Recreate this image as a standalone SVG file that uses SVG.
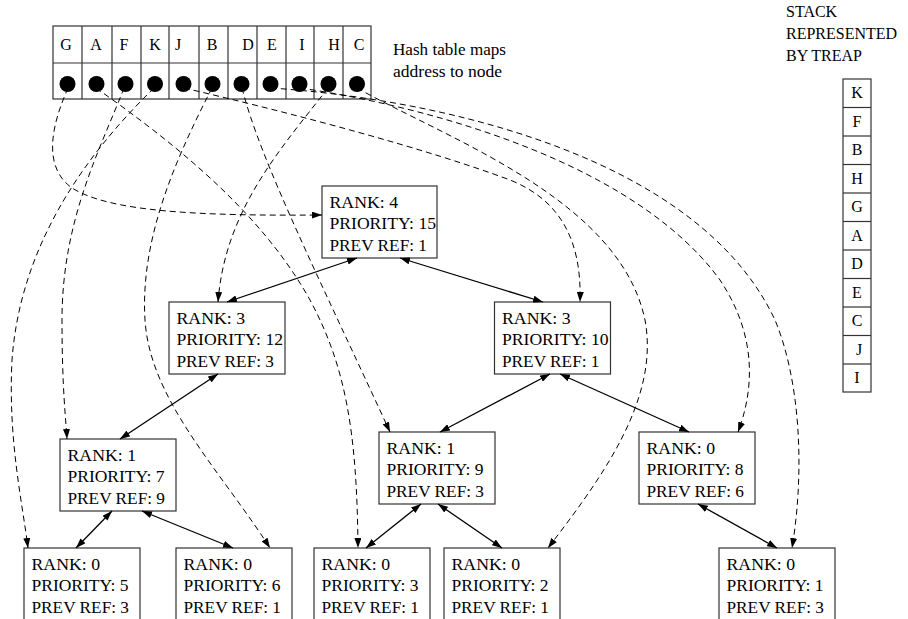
<svg xmlns="http://www.w3.org/2000/svg" width="908" height="619" viewBox="0 0 908 619">
  <style>
    text { font-family: "Liberation Serif", "Times New Roman", serif; font-size: 16px; fill: #000; }
    .box { fill: #fff; stroke: #333; stroke-width: 1.2; }
    .cell { fill: none; stroke: #333; stroke-width: 1.2; }
    .mid { text-anchor: middle; }
    .edge { fill: none; stroke: #000; stroke-width: 1.3; marker-start: url(#ah); marker-end: url(#ah); }
    .ref { fill: none; stroke: #000; stroke-width: 1; stroke-dasharray: 6 4; marker-end: url(#ahd); }
  </style>
  <defs>
    <marker id="ah" viewBox="0 0 10 7" refX="10" refY="3.5" markerWidth="10" markerHeight="7" markerUnits="userSpaceOnUse" orient="auto-start-reverse">
      <path d="M0,0 L10,3.5 L0,7 z" fill="#000"/>
    </marker>
    <marker id="ahd" viewBox="0 0 10 7" refX="10" refY="3.5" markerWidth="10" markerHeight="7" markerUnits="userSpaceOnUse" orient="auto">
      <path d="M0,0 L10,3.5 L0,7 z" fill="#000"/>
    </marker>
  </defs>

  <!-- hash table: address -> treap node -->
  <g id="hash-table">
    <rect class="cell" x="53" y="26" width="318" height="73"/>
    <line class="cell" x1="53" y1="63" x2="371" y2="63"/>
    <g class="cell">
      <line x1="82" y1="26" x2="82" y2="99"/>
      <line x1="112" y1="26" x2="112" y2="99"/>
      <line x1="141" y1="26" x2="141" y2="99"/>
      <line x1="169" y1="26" x2="169" y2="99"/>
      <line x1="199" y1="26" x2="199" y2="99"/>
      <line x1="228" y1="26" x2="228" y2="99"/>
      <line x1="257" y1="26" x2="257" y2="99"/>
      <line x1="286" y1="26" x2="286" y2="99"/>
      <line x1="314" y1="26" x2="314" y2="99"/>
      <line x1="343" y1="26" x2="343" y2="99"/>
    </g>
    <g class="mid">
      <text x="66" y="49.5">G</text>
      <text x="96" y="49.5">A</text>
      <text x="124" y="49.5">F</text>
      <text x="155" y="49.5">K</text>
      <text x="178" y="49.5">J</text>
      <text x="212" y="49.5">B</text>
      <text x="248" y="49.5">D</text>
      <text x="272" y="49.5">E</text>
      <text x="302" y="49.5">I</text>
      <text x="334" y="49.5">H</text>
      <text x="359" y="49.5">C</text>
    </g>
    <g fill="#000">
      <circle cx="67.5" cy="84" r="8"/>
      <circle cx="96.5" cy="84" r="8"/>
      <circle cx="125.5" cy="84" r="8"/>
      <circle cx="155" cy="84" r="8"/>
      <circle cx="183.5" cy="84" r="8"/>
      <circle cx="212.5" cy="84" r="8"/>
      <circle cx="241.5" cy="84" r="8"/>
      <circle cx="270.5" cy="84" r="8"/>
      <circle cx="299.5" cy="84" r="8"/>
      <circle cx="328.5" cy="84" r="8"/>
      <circle cx="357" cy="84" r="8"/>
    </g>
  </g>

  <g id="hash-label">
    <text x="393" y="55" textLength="113" lengthAdjust="spacingAndGlyphs">Hash table maps</text>
    <text x="393" y="77" textLength="109" lengthAdjust="spacingAndGlyphs">address to node</text>
  </g>

  <!-- stack of addresses kept in the treap -->
  <g id="stack">
    <text x="786" y="17">STACK</text>
    <text x="786" y="39">REPRESENTED</text>
    <text x="786" y="60.5">BY TREAP</text>
    <rect class="cell" x="843" y="79" width="28" height="313"/>
    <g class="cell">
      <line x1="843" y1="107.5" x2="871" y2="107.5"/>
      <line x1="843" y1="136" x2="871" y2="136"/>
      <line x1="843" y1="164.5" x2="871" y2="164.5"/>
      <line x1="843" y1="193" x2="871" y2="193"/>
      <line x1="843" y1="221.5" x2="871" y2="221.5"/>
      <line x1="843" y1="250" x2="871" y2="250"/>
      <line x1="843" y1="278.5" x2="871" y2="278.5"/>
      <line x1="843" y1="307" x2="871" y2="307"/>
      <line x1="843" y1="335.5" x2="871" y2="335.5"/>
      <line x1="843" y1="364" x2="871" y2="364"/>
    </g>
    <g class="mid">
      <text x="857" y="98">K</text>
      <text x="857" y="126.5">F</text>
      <text x="857" y="155">B</text>
      <text x="857" y="183.5">H</text>
      <text x="857" y="212">G</text>
      <text x="857" y="240.5">A</text>
      <text x="857" y="269">D</text>
      <text x="857" y="297.5">E</text>
      <text x="857" y="326">C</text>
      <text x="859" y="354.5">J</text>
      <text x="857" y="383">I</text>
    </g>
  </g>

  <!-- treap nodes -->
  <g id="node-root" transform="translate(322,186)">
    <rect class="box" width="115" height="72"/>
    <text x="7.5" y="21.5" textLength="68.5" lengthAdjust="spacingAndGlyphs">RANK: 4</text>
    <text x="7.5" y="43" textLength="106.5" lengthAdjust="spacingAndGlyphs">PRIORITY: 15</text>
    <text x="7.5" y="64.5" textLength="97.5" lengthAdjust="spacingAndGlyphs">PREV REF: 1</text>
  </g>
  <g id="node-p12" transform="translate(169,302)">
    <rect class="box" width="116" height="72"/>
    <text x="7.5" y="21.5" textLength="68.5" lengthAdjust="spacingAndGlyphs">RANK: 3</text>
    <text x="7.5" y="43" textLength="106.5" lengthAdjust="spacingAndGlyphs">PRIORITY: 12</text>
    <text x="7.5" y="64.5" textLength="97.5" lengthAdjust="spacingAndGlyphs">PREV REF: 3</text>
  </g>
  <g id="node-p10" transform="translate(494.5,302)">
    <rect class="box" width="116" height="72"/>
    <text x="7.5" y="21.5" textLength="68.5" lengthAdjust="spacingAndGlyphs">RANK: 3</text>
    <text x="7.5" y="43" textLength="106.5" lengthAdjust="spacingAndGlyphs">PRIORITY: 10</text>
    <text x="7.5" y="64.5" textLength="97.5" lengthAdjust="spacingAndGlyphs">PREV REF: 1</text>
  </g>
  <g id="node-p7" transform="translate(60,439)">
    <rect class="box" width="116" height="72"/>
    <text x="7.5" y="21.5" textLength="68.5" lengthAdjust="spacingAndGlyphs">RANK: 1</text>
    <text x="7.5" y="43" textLength="97" lengthAdjust="spacingAndGlyphs">PRIORITY: 7</text>
    <text x="7.5" y="64.5" textLength="97.5" lengthAdjust="spacingAndGlyphs">PREV REF: 9</text>
  </g>
  <g id="node-p9" transform="translate(379,432)">
    <rect class="box" width="116" height="72"/>
    <text x="7.5" y="21.5" textLength="68.5" lengthAdjust="spacingAndGlyphs">RANK: 1</text>
    <text x="7.5" y="43" textLength="97" lengthAdjust="spacingAndGlyphs">PRIORITY: 9</text>
    <text x="7.5" y="64.5" textLength="97.5" lengthAdjust="spacingAndGlyphs">PREV REF: 3</text>
  </g>
  <g id="node-p8" transform="translate(639,432)">
    <rect class="box" width="116" height="72"/>
    <text x="7.5" y="21.5" textLength="68.5" lengthAdjust="spacingAndGlyphs">RANK: 0</text>
    <text x="7.5" y="43" textLength="97" lengthAdjust="spacingAndGlyphs">PRIORITY: 8</text>
    <text x="7.5" y="64.5" textLength="97.5" lengthAdjust="spacingAndGlyphs">PREV REF: 6</text>
  </g>
  <g id="node-p5" transform="translate(24,548)">
    <rect class="box" width="116" height="72"/>
    <text x="7.5" y="21.5" textLength="68.5" lengthAdjust="spacingAndGlyphs">RANK: 0</text>
    <text x="7.5" y="43" textLength="97" lengthAdjust="spacingAndGlyphs">PRIORITY: 5</text>
    <text x="7.5" y="64.5" textLength="97.5" lengthAdjust="spacingAndGlyphs">PREV REF: 3</text>
  </g>
  <g id="node-p6" transform="translate(176,548)">
    <rect class="box" width="116" height="72"/>
    <text x="7.5" y="21.5" textLength="68.5" lengthAdjust="spacingAndGlyphs">RANK: 0</text>
    <text x="7.5" y="43" textLength="97" lengthAdjust="spacingAndGlyphs">PRIORITY: 6</text>
    <text x="7.5" y="64.5" textLength="97.5" lengthAdjust="spacingAndGlyphs">PREV REF: 1</text>
  </g>
  <g id="node-p3" transform="translate(314,548)">
    <rect class="box" width="116" height="72"/>
    <text x="7.5" y="21.5" textLength="68.5" lengthAdjust="spacingAndGlyphs">RANK: 0</text>
    <text x="7.5" y="43" textLength="97" lengthAdjust="spacingAndGlyphs">PRIORITY: 3</text>
    <text x="7.5" y="64.5" textLength="97.5" lengthAdjust="spacingAndGlyphs">PREV REF: 1</text>
  </g>
  <g id="node-p2" transform="translate(444,548)">
    <rect class="box" width="116" height="72"/>
    <text x="7.5" y="21.5" textLength="68.5" lengthAdjust="spacingAndGlyphs">RANK: 0</text>
    <text x="7.5" y="43" textLength="97" lengthAdjust="spacingAndGlyphs">PRIORITY: 2</text>
    <text x="7.5" y="64.5" textLength="97.5" lengthAdjust="spacingAndGlyphs">PREV REF: 1</text>
  </g>
  <g id="node-p1" transform="translate(719,548)">
    <rect class="box" width="116" height="72"/>
    <text x="7.5" y="21.5" textLength="68.5" lengthAdjust="spacingAndGlyphs">RANK: 0</text>
    <text x="7.5" y="43" textLength="97" lengthAdjust="spacingAndGlyphs">PRIORITY: 1</text>
    <text x="7.5" y="64.5" textLength="97.5" lengthAdjust="spacingAndGlyphs">PREV REF: 3</text>
  </g>

  <g id="connectors">
    <!-- parent/child links of the treap -->
    <line class="edge" x1="357" y1="258" x2="227" y2="302"/>
    <line class="edge" x1="400" y1="258" x2="543" y2="302"/>
    <line class="edge" x1="218" y1="374" x2="120" y2="439"/>
    <line class="edge" x1="550" y1="374" x2="440" y2="432"/>
    <line class="edge" x1="560" y1="374" x2="689" y2="432"/>
    <line class="edge" x1="112" y1="511" x2="76" y2="548"/>
    <line class="edge" x1="142" y1="511" x2="233" y2="548"/>
    <line class="edge" x1="421" y1="504" x2="366" y2="548"/>
    <line class="edge" x1="438" y1="504" x2="502" y2="548"/>
    <line class="edge" x1="698" y1="504" x2="777" y2="548"/>

    <!-- hash slot pointers -->
    <path class="ref" d="M68,88 C54,120 40,165 72,188 C110,212 200,216 322,215"/>
    <path class="ref" d="M96,88 C170,140 260,210 310,300 C345,365 357,430 358,548"/>
    <path class="ref" d="M124,88 C100,150 62,220 62,320 C62,390 66,420 67,439"/>
    <path class="ref" d="M154,88 C80,160 20,250 12,360 C8,440 22,500 28,548"/>
    <path class="ref" d="M184,88 C300,115 430,150 510,180 C560,200 582,240 580,302"/>
    <path class="ref" d="M212,88 C175,160 140,240 145,320 C150,400 220,470 270,548"/>
    <path class="ref" d="M242,88 C260,160 320,280 390,432"/>
    <path class="ref" d="M271,88 C450,100 700,160 775,320 C800,380 805,470 792,548"/>
    <path class="ref" d="M300,88 C450,110 640,170 720,280 C760,340 752,395 738,432"/>
    <path class="ref" d="M328,88 C280,150 225,210 218,302"/>
    <path class="ref" d="M357,88 C450,140 620,200 645,320 C660,400 600,480 548,548"/>
  </g>
</svg>
